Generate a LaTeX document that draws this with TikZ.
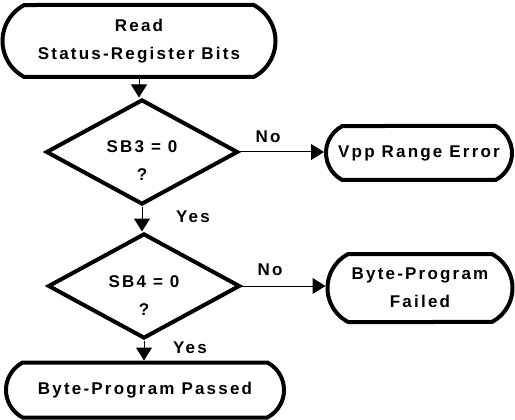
\documentclass[tikz,border=0pt]{standalone}
\usepackage{fontspec}
\newfontfamily\flowfont[LetterSpace=13]{Liberation Sans}
\newcommand\ffont{\flowfont\bfseries\fontsize{17}{28}\selectfont}
\usetikzlibrary{shapes.geometric,shapes.misc,arrows.meta}
\begin{document}
\begin{tikzpicture}[x=1pt,y=1pt,
  term/.style={rounded rectangle, rounded rectangle arc length=125, draw, line width=4pt,
    inner sep=0pt, align=center, font=\ffont},
  dec/.style={diamond, draw, line width=4pt, inner sep=0pt,
    minimum width=192pt, minimum height=105pt},
  lbl/.style={font=\ffont, align=center, inner sep=0pt},
  conn/.style={line width=1pt, -{Triangle[length=13pt,width=16pt]}}]
\fill[white] (0,0) rectangle (515,-420);
\useasboundingbox (0,0) rectangle (515,-420);

\node[term, minimum width=273pt, minimum height=72pt] (read) at (139,-41) {Read\\Status-Register Bits};
\node[dec] (d1) at (142,-152) {};
\node[lbl] (t1) at (142,-161) {SB3 = 0\\?};
\node[term, minimum width=186pt, minimum height=54pt] (vpp) at (419,-153) {Vpp Range Error};
\node[dec] (d2) at (144,-286) {};
\node[lbl] (t2) at (144,-296) {SB4 = 0\\?};
\node[term, minimum width=185pt, minimum height=68pt] (fail) at (420,-288) {Byte-Program\\Failed};
\node[term, minimum width=278pt, minimum height=55pt] (pass) at (145,-390) {Byte-Program Passed};

\node[lbl] (no1) at (268,-137) {No};
\node[lbl] (yes1) at (193,-217) {Yes};
\node[lbl] (no2) at (270,-270) {No};
\node[lbl] (yes2) at (190,-348) {Yes};

\draw[conn] (read.south) -- (read.south |- d1.north);
\draw[conn] (d1.east) -- (d1.east -| vpp.west);
\draw[conn] (d1.south) -- (d1.south |- d2.north);
\draw[conn] (d2.east) -- (d2.east -| fail.west);
\draw[conn] (d2.south) -- (d2.south |- pass.north);
\end{tikzpicture}
\end{document}
